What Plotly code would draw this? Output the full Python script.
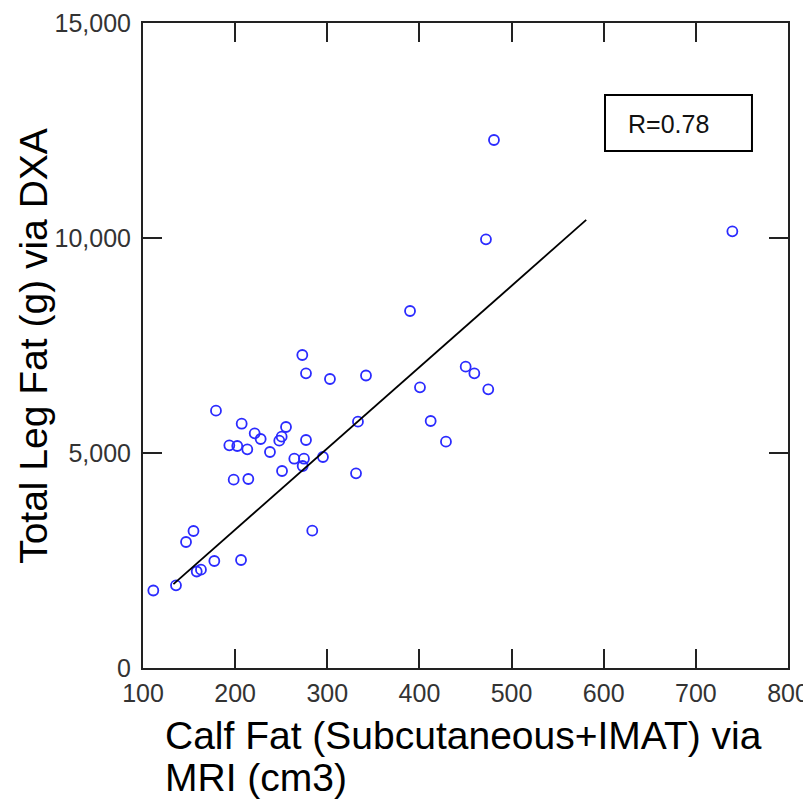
import plotly.graph_objects as go

# Calf fat via MRI (cm3)
calf_fat = [111.2, 135.8, 158.3, 162.9, 177.4, 206.4, 146.7, 154.8, 283.7, 198.4,
            214.3, 250.9, 331.2, 273.3, 264.2, 274.7, 295.3, 237.8, 193.7, 202.3,
            213.2, 276.9, 247.9, 250.5, 255.2, 221.2, 227.7, 207.1, 179.2, 333.3,
            412.2, 428.8, 272.9, 276.9, 302.9, 342.0, 400.6, 389.8, 450.2, 459.6,
            474.7, 472.2, 480.9, 739.6]
# Total leg fat via DXA (g)
leg_fat = [1802, 1923, 2244, 2286, 2488, 2512, 2930, 3186, 3193, 4379,
           4395, 4581, 4528, 4698, 4867, 4867, 4907, 5023, 5179, 5163,
           5086, 5302, 5286, 5379, 5605, 5458, 5326, 5681, 5984, 5728,
           5744, 5263, 7279, 6853, 6721, 6802, 6528, 8302, 7007, 6853,
           6481, 9969, 12279, 10155]

# regression line end points
fit_x = [133, 581]
fit_y = [1950, 10420]

r_text = "R=0.78"
x_title_1 = "Calf Fat (Subcutaneous+IMAT) via"
x_title_2 = "MRI (cm3)"
y_title = "Total Leg Fat (g) via DXA"

x_ticks = [100, 200, 300, 400, 500, 600, 700, 800]
y_ticks = [0, 5000, 10000, 15000]

fig = go.Figure()
fig.add_trace(go.Scatter(
    x=calf_fat, y=leg_fat, mode="markers",
    marker=dict(symbol="circle-open", size=10, color="#2b2bff",
                line=dict(width=1.8, color="#2b2bff")),
    showlegend=False))
fig.add_trace(go.Scatter(
    x=fit_x, y=fit_y, mode="lines",
    line=dict(color="black", width=1.8), showlegend=False))

axis_common = dict(
    showgrid=False, zeroline=False, showline=True, linecolor="#222",
    linewidth=2, mirror="ticks", ticks="inside", ticklen=19, tickwidth=1.5,
    tickcolor="#222", automargin=False,
    tickfont=dict(family="Liberation Sans, Arial, sans-serif", size=25, color="#333"),
)

fig.update_xaxes(range=[100, 800], tickvals=x_ticks,
                 ticktext=[str(v) for v in x_ticks], ticklabelstandoff=2,
                 **axis_common)
fig.update_yaxes(range=[0, 15000], tickvals=y_ticks,
                 ticktext=[f"{v:,}" for v in y_ticks], ticklabelstandoff=5,
                 **axis_common)

fig.add_shape(type="rect", xref="x", yref="y", x0=601.4, x1=760.9,
              y0=12023, y1=13326, line=dict(color="black", width=2),
              fillcolor="white")
fig.add_annotation(x=624.2, y=12651, xref="x", yref="y", text=r_text,
                   showarrow=False, xanchor="left", yanchor="middle",
                   font=dict(family="Liberation Sans, Arial, sans-serif", size=25, color="#111"))

title_font = dict(family="Liberation Sans, Arial, sans-serif", size=39, color="black")
fig.add_annotation(x=0.031, y=-0.105, xref="paper", yref="paper", text=x_title_1,
                   showarrow=False, xanchor="left", yanchor="middle", font=title_font)
fig.add_annotation(x=0.031, y=-0.170, xref="paper", yref="paper", text=x_title_2,
                   showarrow=False, xanchor="left", yanchor="middle", font=title_font)
fig.add_annotation(x=-0.17, y=0.5, xref="paper", yref="paper", text=y_title,
                   textangle=-90, showarrow=False, xanchor="center", yanchor="middle",
                   font=title_font)

fig.update_layout(
    width=803, height=798,
    margin=dict(l=135, r=23, t=15, b=138, autoexpand=False),
    paper_bgcolor="white", plot_bgcolor="white",
)

fig.write_html("out.html")
